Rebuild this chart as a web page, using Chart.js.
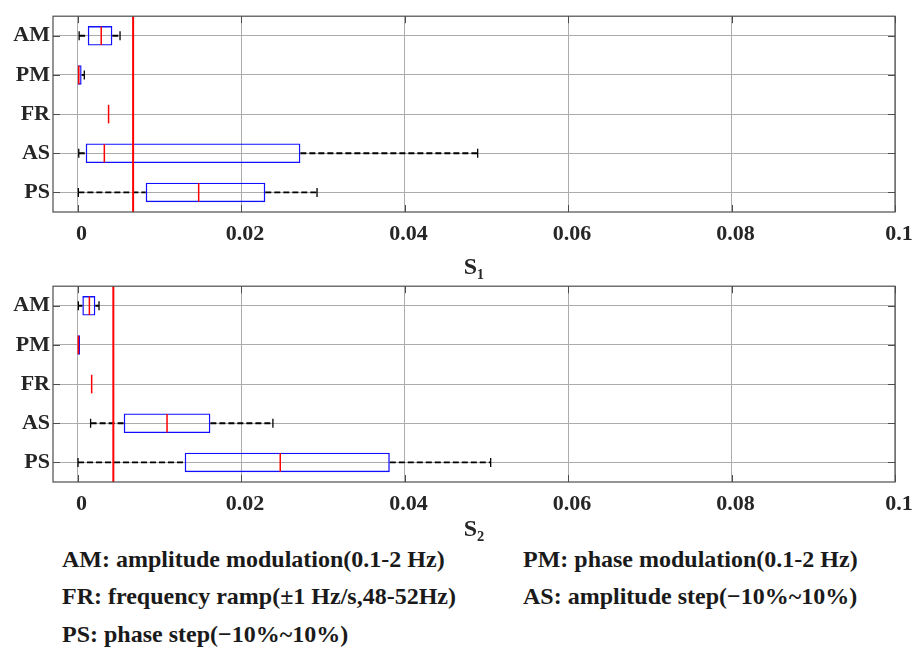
<!DOCTYPE html>
<html>
<head>
<meta charset="utf-8">
<script src="https://cdn.jsdelivr.net/npm/chart.js@4.4.1/dist/chart.umd.min.js"></script>
<style>
  html, body { margin: 0; padding: 0; background: #ffffff; }
  body { width: 918px; height: 648px; position: relative; overflow: hidden;
         font-family: "Liberation Serif", "Times New Roman", serif; }
  canvas { position: absolute; left: 0; }
  #c1 { top: 0; }
  #c2 { top: 270px; }
  .note { position: absolute; font-weight: bold; font-size: 24px; line-height: 24px;
          color: #1a1a1a; white-space: nowrap; }
</style>
</head>
<body>
<canvas id="c1" width="918" height="280"></canvas>
<canvas id="c2" width="918" height="275"></canvas>
<div class="note" style="left:62px; top:547px;">AM: amplitude modulation(0.1-2 Hz)</div>
<div class="note" style="left:523px; top:547px;">PM: phase modulation(0.1-2 Hz)</div>
<div class="note" style="left:62px; top:584px;">FR: frequency ramp(±1 Hz/s,48-52Hz)</div>
<div class="note" style="left:523px; top:584px;">AS: amplitude step(−10%~10%)</div>
<div class="note" style="left:62px; top:622px;">PS: phase step(−10%~10%)</div>
<script>
// ---------------- data ----------------
const categories = ["AM", "PM", "FR", "AS", "PS"];
const xTickValues = [0, 0.02, 0.04, 0.06, 0.08, 0.1];
const xTickLabels = ["0", "0.02", "0.04", "0.06", "0.08", "0.1"];
const xMin = -0.003;
const xMax = 0.1;

// S1 (top panel)
const s1WhiskerLow  = [0.0002,  0.00002, 0.0038, 0.00015, 0.0001];
const s1Q1          = [0.00125, 0.00003, 0.0038, 0.0010,  0.00834];
const s1Median      = [0.0029,  0.00015, 0.0038, 0.00328, 0.01482];
const s1Q3          = [0.00426, 0.0005,  0.0038, 0.02726, 0.02297];
const s1WhiskerHigh = [0.0052,  0.00083, 0.0038, 0.04895, 0.0293];
const s1Threshold   = 0.0068;

// S2 (bottom panel)
const s2WhiskerLow  = [0.0001,  0.00001, 0.00173, 0.0016,  0.00006];
const s2Q1          = [0.00059, 0.00002, 0.00173, 0.00565, 0.01311];
const s2Median      = [0.00145, 0.0001,  0.00173, 0.01095, 0.0248];
const s2Q3          = [0.00218, 0.0003,  0.00173, 0.01625, 0.0382];
const s2WhiskerHigh = [0.00263, 0.00035, 0.00173, 0.0239,  0.05054];
const s2Threshold   = 0.00438;

// ---------------- styling ----------------
const FONT = '"Liberation Serif", "Times New Roman", serif';
const BOX_BLUE = '#1010ff';
const MED_RED = '#ff0000';
const GRID = '#ababab';
const AXIS = '#4d4d4d';
const TEXT = '#262626';

const boxParts = {
  id: 'boxParts',
  beforeDatasetsDraw(chart, args, opts) {
    const { ctx, chartArea: a, scales: { x, y } } = chart;
    ctx.save();
    ctx.strokeStyle = AXIS;
    ctx.lineWidth = 1;
    ctx.beginPath();
    xTickValues.forEach(v => {
      const px = Math.round(x.getPixelForValue(v)) + 0.5;
      ctx.moveTo(px, a.bottom); ctx.lineTo(px, a.bottom - 7);
      ctx.moveTo(px, a.top); ctx.lineTo(px, a.top + 7);
    });
    categories.forEach((c, i) => {
      const py = Math.round(y.getPixelForValue(i)) + 0.5;
      ctx.moveTo(a.left, py); ctx.lineTo(a.left + 7, py);
      ctx.moveTo(a.right, py); ctx.lineTo(a.right - 7, py);
    });
    ctx.stroke();
    ctx.restore();
  },
  afterDatasetsDraw(chart, args, opts) {
    const { ctx, chartArea: a, scales: { x, y } } = chart;
    const d = opts.series;
    const step = Math.abs(y.getPixelForValue(1) - y.getPixelForValue(0));
    const half = step * 0.25;
    const cap = 4.5;
    ctx.save();
    categories.forEach((c, i) => {
      const yc = y.getPixelForValue(i);
      const lo = x.getPixelForValue(d.low[i]);
      const q1 = x.getPixelForValue(d.q1[i]);
      const q3 = x.getPixelForValue(d.q3[i]);
      const hi = x.getPixelForValue(d.high[i]);
      const md = x.getPixelForValue(d.median[i]);
      ctx.strokeStyle = '#000000';
      ctx.lineWidth = 1.9;
      ctx.setLineDash([6, 3]);
      ctx.beginPath();
      if (q1 - lo > 0.5) { ctx.moveTo(lo, yc); ctx.lineTo(q1, yc); }
      if (hi - q3 > 0.5) { ctx.moveTo(q3, yc); ctx.lineTo(hi, yc); }
      ctx.stroke();
      ctx.setLineDash([]);
      ctx.lineWidth = 1.3;
      ctx.beginPath();
      if (q1 - lo > 0.5) { ctx.moveTo(lo, yc - cap); ctx.lineTo(lo, yc + cap); }
      if (hi - q3 > 0.5) { ctx.moveTo(hi, yc - cap); ctx.lineTo(hi, yc + cap); }
      ctx.stroke();
      ctx.strokeStyle = MED_RED;
      ctx.lineWidth = 1.5;
      ctx.beginPath();
      ctx.moveTo(md, yc - half + 0.5); ctx.lineTo(md, yc + half - 0.5);
      ctx.stroke();
    });
    const tx = x.getPixelForValue(opts.threshold);
    ctx.strokeStyle = MED_RED;
    ctx.lineWidth = 2;
    ctx.beginPath();
    ctx.moveTo(tx, a.top); ctx.lineTo(tx, a.bottom);
    ctx.stroke();
    ctx.strokeStyle = AXIS;
    ctx.lineWidth = 1.2;
    ctx.strokeRect(a.left, a.top, a.right - a.left, a.bottom - a.top);
    ctx.restore();
  }
};

function makeChart(id, series, threshold, titleText, pad, axisHeight, titlePadBottom) {
  return new Chart(document.getElementById(id), {
    type: 'bar',
    data: {
      labels: categories,
      datasets: [{
        data: series.q1.map((v, i) => [v, series.q3[i]]),
        backgroundColor: 'rgba(0,0,0,0)',
        borderColor: BOX_BLUE,
        borderWidth: 1.4,
        borderSkipped: false,
        barPercentage: 0.5,
        categoryPercentage: 1.0
      }]
    },
    options: {
      indexAxis: 'y',
      responsive: false,
      animation: false,
      events: [],
      layout: { padding: pad },
      plugins: {
        legend: { display: false },
        tooltip: { enabled: false },
        boxParts: { series: series, threshold: threshold }
      },
      scales: {
        x: {
          type: 'linear',
          min: xMin,
          max: xMax,
          afterBuildTicks: s => { s.ticks = xTickValues.map(v => ({ value: v })); },
          afterFit: s => { s.height = axisHeight; },
          grid: { color: GRID, lineWidth: 1, drawTicks: false },
          border: { display: false },
          ticks: {
            padding: 9,
            labelOffset: 4,
            color: TEXT,
            font: { family: FONT, size: 22, weight: 'bold' },
            callback: (v, i) => xTickLabels[i]
          },
          title: {
            display: true,
            text: titleText,
            color: TEXT,
            padding: { top: 0, bottom: titlePadBottom },
            font: { family: FONT, size: 24, weight: 'bold', lineHeight: 1 }
          }
        },
        y: {
          type: 'category',
          offset: true,
          afterFit: s => { s.width = 53; },
          grid: { color: GRID, lineWidth: 1, drawTicks: false, offset: false },
          border: { display: false },
          ticks: {
            padding: 3,
            color: TEXT,
            font: { family: FONT, size: 22, weight: 'bold' }
          }
        }
      }
    },
    plugins: [boxParts]
  });
}

makeChart('c1',
  { low: s1WhiskerLow, q1: s1Q1, median: s1Median, q3: s1Q3, high: s1WhiskerHigh },
  s1Threshold, 'S\u2081',
  { left: 0, top: 13, right: 23, bottom: 0 }, 68, 0);

makeChart('c2',
  { low: s2WhiskerLow, q1: s2Q1, median: s2Median, q3: s2Q3, high: s2WhiskerHigh },
  s2Threshold, 'S\u2082',
  { left: 0, top: 12, right: 23, bottom: 0 }, 63, 3);
</script>
</body>
</html>
